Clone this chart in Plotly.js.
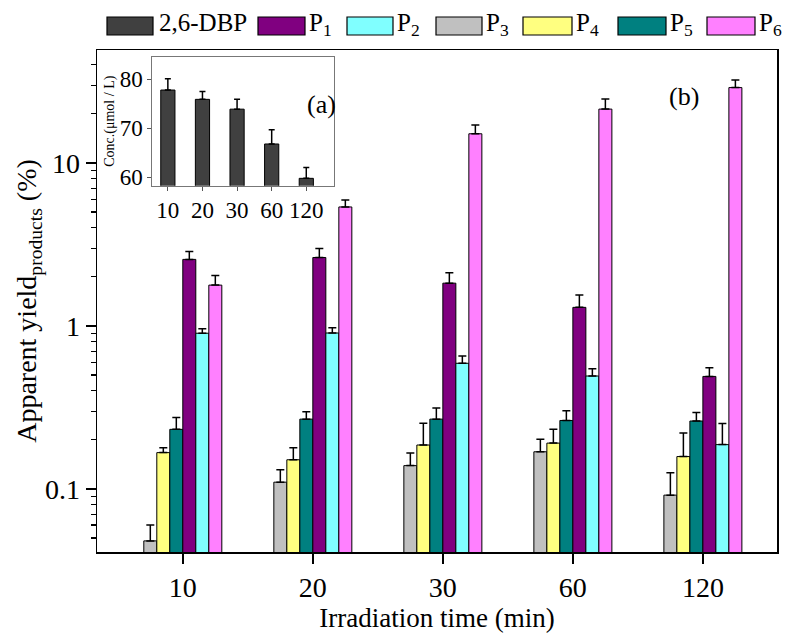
<!DOCTYPE html>
<html>
<head>
<meta charset="utf-8">
<script src="https://cdn.plot.ly/plotly-3.0.1.min.js"></script>
<style>html,body{margin:0;padding:0;background:#fff;}#chart{width:800px;height:641px;}</style>
</head>
<body>
<div id="chart"></div>
<script>
// Categories (irradiation time, min)
const times = ['10', '20', '30', '60', '120'];

// Apparent yield of products (%)
const P1 = [2.56, 2.63, 1.83, 1.30, 0.490];
const P2 = [0.902, 0.905, 0.590, 0.493, 0.187];
const P3 = [0.048, 0.110, 0.139, 0.169, 0.0916];
const P4 = [0.167, 0.151, 0.186, 0.191, 0.158];
const P5 = [0.232, 0.268, 0.268, 0.263, 0.261];
const P6 = [1.78, 5.37, 15.1, 21.4, 29.0];

// Upper error bars
const P1err = [0.30, 0.36, 0.29, 0.25, 0.063];
const P2err = [0.06, 0.07, 0.065, 0.054, 0.065];
const P3err = [0.012, 0.021, 0.027, 0.033, 0.034];
const P4err = [0.012, 0.028, 0.067, 0.041, 0.062];
const P5err = [0.042, 0.030, 0.046, 0.039, 0.033];
const P6err = [0.26, 0.55, 2.0, 3.3, 3.3];

// Inset: 2,6-DBP concentration (µmol/L)
const DBP = [77.8, 75.9, 73.9, 66.8, 59.8];
const DBPerr = [2.3, 1.6, 2.0, 2.9, 2.2];

// Tick labels
const yTickVals = [0.1, 1, 10];
const yTickText = ['0.1', '1', '10'];
const yMinorVals = [0.05, 0.06, 0.07, 0.08, 0.09, 0.2, 0.3, 0.4, 0.5, 0.6, 0.7, 0.8, 0.9,
                    2, 3, 4, 5, 6, 7, 8, 9, 20, 30, 40];
const insetTickVals = [60, 70, 80];

// Legend entries (names, colours)
const legendNames = ['2,6-DBP', 'P<sub>1</sub>', 'P<sub>2</sub>', 'P<sub>3</sub>',
                     'P<sub>4</sub>', 'P<sub>5</sub>', 'P<sub>6</sub>'];
const legendColors = ['#404040', '#800080', '#80ffff', '#c0c0c0', '#ffff80', '#008080', '#ff80ff'];

const FONT = 'Liberation Serif';
const M = {l: 97, r: 23, t: 50, b: 89};
const W = 800, H = 641;
const PW = W - M.l - M.r, PH = H - M.t - M.b;
const px = x => (x - M.l) / PW;           // pixel -> paper x
const py = y => (H - M.b - y) / PH;       // pixel -> paper y

function zeros(n) { return new Array(n).fill(0); }

function barTrace(name, y, err, color) {
  return {
    type: 'bar', name: name, x: times, y: y,
    xaxis: 'x', yaxis: 'y', showlegend: false,
    marker: {color: color, line: {color: '#000', width: 1}},
    error_y: {type: 'data', symmetric: false, array: err, arrayminus: zeros(err.length),
              color: '#000', thickness: 1.5, width: 4}
  };
}

const data = [
  barTrace('P<sub>3</sub>', P3, P3err, legendColors[3]),
  barTrace('P<sub>4</sub>', P4, P4err, legendColors[4]),
  barTrace('P<sub>5</sub>', P5, P5err, legendColors[5]),
  barTrace('P<sub>1</sub>', P1, P1err, legendColors[1]),
  barTrace('P<sub>2</sub>', P2, P2err, legendColors[2]),
  barTrace('P<sub>6</sub>', P6, P6err, legendColors[6]),
  {
    type: 'bar', name: '2,6-DBP', x: times, y: DBP,
    xaxis: 'x2', yaxis: 'y2', width: 0.41, showlegend: false,
    marker: {color: legendColors[0], line: {color: '#000', width: 1}},
    error_y: {type: 'data', symmetric: false, array: DBPerr, arrayminus: zeros(DBPerr.length),
              color: '#000', thickness: 1.5, width: 3}
  }
];

// Legend layout (pixel positions of swatches / labels)
const legSwatchX = [[107, 153], [258, 305], [347, 393], [436, 482], [523, 572], [618, 666], [707, 755]];
const legTextX = [158, 308, 396, 485, 575, 669, 758];
const legTop = 17, legBottom = 35;

const shapes = [];
const annotations = [];
legendNames.forEach((n, i) => {
  shapes.push({type: 'rect', xref: 'paper', yref: 'paper',
    x0: px(legSwatchX[i][0]), x1: px(legSwatchX[i][1]), y0: py(legBottom), y1: py(legTop),
    fillcolor: legendColors[i], line: {color: '#000', width: 1.2}});
  annotations.push({text: n, xref: 'paper', yref: 'paper', x: px(legTextX[i]), y: py(8),
    xanchor: 'left', yanchor: 'top', showarrow: false, borderpad: 0,
    font: {family: FONT, size: 25}});
});
annotations.push({text: '(a)', xref: 'paper', yref: 'paper', x: px(305), y: py(88),
  showarrow: false, font: {family: FONT, size: 26}});
annotations.push({text: '(b)', xref: 'paper', yref: 'paper', x: px(701), y: py(80),
  showarrow: false, font: {family: FONT, size: 26}});

const layout = {
  width: W, height: H,
  margin: M,
  paper_bgcolor: '#fff', plot_bgcolor: '#fff',
  font: {family: FONT, color: '#000', size: 22},
  barmode: 'group', bargap: 0.4, bargroupgap: 0,
  showlegend: false,
  xaxis: {
    type: 'category', domain: [0, 1], anchor: 'y',
    range: [-0.66, 4.57],
    showline: true, linecolor: '#000', linewidth: 1.5, mirror: true,
    ticks: 'outside', ticklen: 10, tickwidth: 1.5, tickcolor: '#000',
    tickfont: {family: FONT, size: 28},
    showgrid: false, zeroline: false,
    title: {text: 'Irradiation time (min)', font: {family: FONT, size: 27}, standoff: 0}
  },
  yaxis: {
    type: 'log', domain: [0, 1], anchor: 'x',
    range: [-1.387, 1.693],
    showline: true, linecolor: '#000', linewidth: 1.5, mirror: true,
    ticks: 'outside', ticklen: 10, tickwidth: 1.5, tickcolor: '#000',
    tickmode: 'array', tickvals: yTickVals, ticktext: yTickText,
    tickfont: {family: FONT, size: 28},
    minor: {tickmode: 'array', tickvals: yMinorVals, ticks: 'outside', ticklen: 5,
            tickwidth: 1.2, tickcolor: '#000', showgrid: false},
    showgrid: false, zeroline: false,
    title: {text: 'Apparent yield<sub>products</sub> (%)', font: {family: FONT, size: 28}, standoff: 0}
  },
  xaxis2: {
    type: 'category', domain: [0.0813, 0.349], anchor: 'y2',
    range: [-0.45, 4.81],
    showline: true, linecolor: '#777', linewidth: 1, mirror: true,
    ticks: 'outside', ticklen: 4, tickcolor: '#555',
    tickfont: {family: FONT, size: 23},
    showgrid: false, zeroline: false
  },
  yaxis2: {
    domain: [0.7297, 0.9867], anchor: 'x2',
    range: [58.3, 84.6],
    showline: true, linecolor: '#777', linewidth: 1, mirror: true,
    ticks: 'outside', ticklen: 4, tickcolor: '#555',
    tickmode: 'array', tickvals: insetTickVals,
    tickfont: {family: FONT, size: 23},
    showgrid: false, zeroline: false,
    title: {text: 'Conc.(μmol / L)', font: {family: FONT, size: 14}, standoff: 1}
  },
  yaxis3: {
    overlaying: 'y2', anchor: 'x2', side: 'right',
    range: [58.3, 84.6], dtick: 2.5, tick0: 60,
    ticks: 'inside', ticklen: 3, tickcolor: '#777',
    showticklabels: false, showgrid: false, zeroline: false, showline: false
  },
  shapes: shapes,
  annotations: annotations
};

Plotly.newPlot('chart', data, layout, {displayModeBar: false, staticPlot: true});
</script>
</body>
</html>
